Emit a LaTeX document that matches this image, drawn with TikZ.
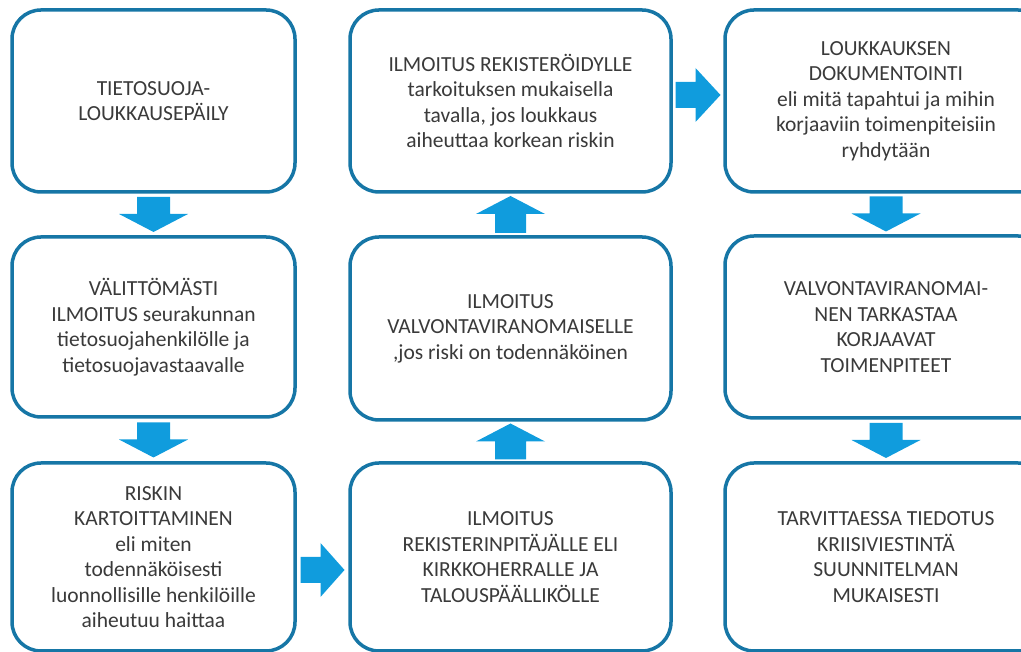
\documentclass[tikz,border=0pt]{standalone}
\usepackage{fontspec}
\setmainfont{Carlito}
\usetikzlibrary{calc}
\definecolor{boxblue}{RGB}{22,118,166}
\definecolor{arrowblue}{RGB}{16,156,221}
\definecolor{txt}{RGB}{58,58,58}
\newcommand\barrow[6]{\fill[arrowblue,shift={(#1)},rotate=#2] ({-#3/2},{-#4}) -- ({#3/2-#6},{-#4}) -- ({#3/2-#6},{-#5}) -- ({#3/2},0) -- ({#3/2-#6},{#5}) -- ({#3/2-#6},{#4}) -- ({-#3/2},{#4}) -- cycle;}
\tikzset{
  stepbox/.style={draw=boxblue,line width=3.5pt,rounded corners=29pt,fill=white,
    align=center,text=txt,inner sep=4pt,
    font=\fontsize{21.5}{25.5}\selectfont},
}
\begin{document}
\begin{tikzpicture}[x=1pt,y=1pt]
\useasboundingbox (0,0) rectangle (1021,652);
\clip (0,0) rectangle (1021,652);
% column 1
\node[stepbox,minimum width=283pt,minimum height=182pt] (b1) at (153.5,551) {TIETOSUOJA-\\LOUKKAUSEPÄILY};
\node[stepbox,minimum width=283pt,minimum height=180pt] (b2) at (153.5,325) {VÄLITTÖMÄSTI\\ILMOITUS seurakunnan\\tietosuojahenkilölle ja\\tietosuojavastaavalle};
\node[stepbox,minimum width=283pt,minimum height=188pt] (b3) at (153.5,95) {RISKIN\\KARTOITTAMINEN\\eli miten\\todennäköisesti\\luonnollisille henkilöille\\aiheutuu haittaa};
% column 2
\node[stepbox,minimum width=321pt,minimum height=188pt] (b4) at (510.5,95) {ILMOITUS\\REKISTERINPITÄJÄLLE ELI\\KIRKKOHERRALLE JA\\TALOUSPÄÄLLIKÖLLE};
\node[stepbox,minimum width=321pt,minimum height=183pt] (b5) at (510.5,323.5) {ILMOITUS\\VALVONTAVIRANOMAISELLE\\,jos riski on todennäköinen};
\node[stepbox,minimum width=321pt,minimum height=182pt] (b6) at (510.5,551) {ILMOITUS REKISTERÖIDYLLE\\tarkoituksen mukaisella\\tavalla, jos loukkaus\\aiheuttaa korkean riskin};
% column 3
\node[stepbox,minimum width=322pt,minimum height=182pt] (b7) at (886,551) {LOUKKAUKSEN\\DOKUMENTOINTI\\eli mitä tapahtui ja mihin\\korjaaviin toimenpiteisiin\\ryhdytään};
\node[stepbox,minimum width=322pt,minimum height=182pt] (b8) at (886,325) {VALVONTAVIRANOMAI-\\NEN TARKASTAA\\KORJAAVAT\\TOIMENPITEET};
\node[stepbox,minimum width=322pt,minimum height=188pt] (b9) at (886,95) {TARVITTAESSA TIEDOTUS\\KRIISIVIESTINTÄ\\SUUNNITELMAN\\MUKAISESTI};
% block arrows
\barrow{$(b1.south)!0.5!(b2.north)$}{-90}{35}{16.5}{34.5}{18}
\barrow{$(b2.south)!0.5!(b3.north)$}{-90}{35}{16.5}{34.5}{18}
\barrow{$(b3.east)!0.5!(b4.west)+(0,-13)$}{0}{44}{13}{27}{24}
\barrow{$(b4.north)!0.5!(b5.south)$}{90}{36}{15.5}{34.5}{18}
\barrow{$(b5.north)!0.5!(b6.south)$}{90}{37}{15.5}{34.5}{18}
\barrow{$(b6.east)!0.5!(b7.west)+(0,6)$}{0}{45}{13}{27}{25}
\barrow{$(b7.south)!0.5!(b8.north)$}{-90}{35}{16.5}{34.5}{18}
\barrow{$(b8.south)!0.5!(b9.north)$}{-90}{35}{16.5}{34.5}{18}
\end{tikzpicture}
\end{document}
